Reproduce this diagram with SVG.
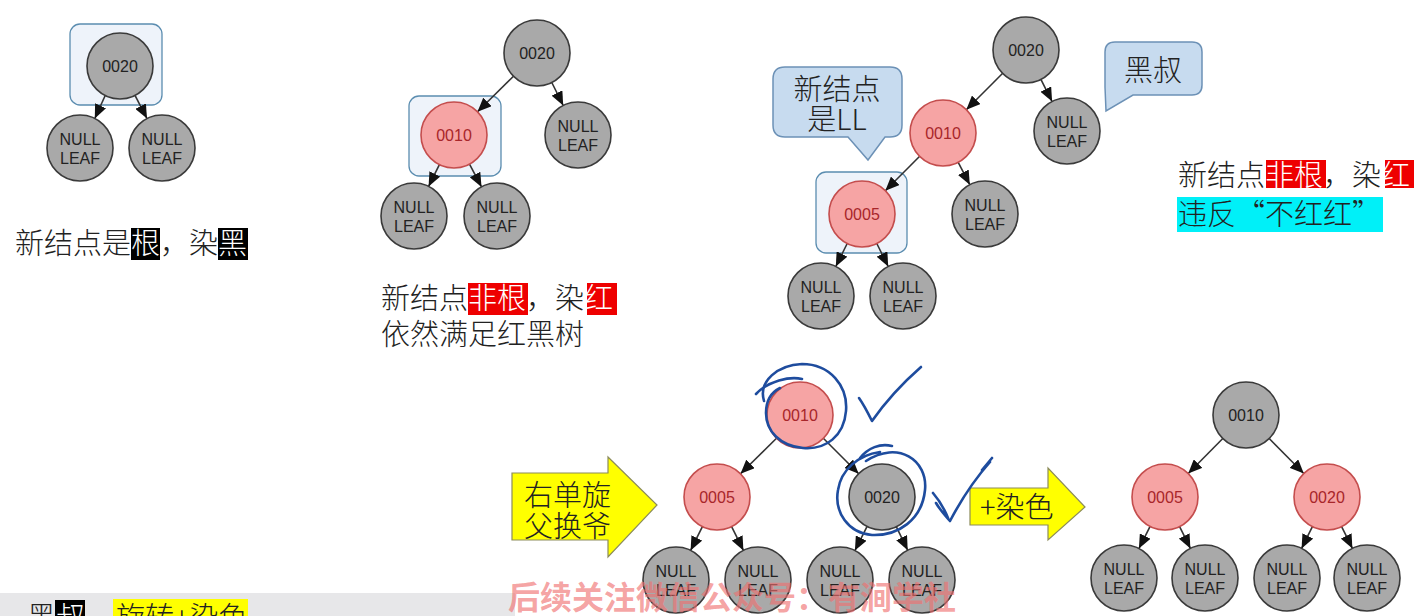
<svg xmlns="http://www.w3.org/2000/svg" width="1422" height="616" viewBox="0 0 1422 616">
<defs>
<marker id="ah" markerUnits="userSpaceOnUse" markerWidth="14" markerHeight="12" refX="14" refY="6" orient="auto"><path d="M0,0 L14,6 L0,12 z" fill="#111"/></marker>
<style>
.e{stroke:#333;stroke-width:1.6;fill:none;marker-end:url(#ah)}
.g circle{fill:#a9a9a9;stroke:#3a3a3a;stroke-width:1.6}
.r circle{fill:#f6a4a4;stroke:#c44d4d;stroke-width:1.6}
.n text{font-family:"Liberation Sans",Arial,sans-serif;font-size:16px;text-anchor:middle}
.g text{fill:#222}
.r text{fill:#a8262a}
.hl{fill:#eef3fa;stroke:#5b8db0;stroke-width:1.3}
.cj{font-family:"Noto Sans CJK SC","Noto Sans CJK JP",sans-serif;font-size:29px;font-weight:300;fill:#222}
.call{fill:#c7dbef;stroke:#6c91b6;stroke-width:1.5}
.ya{fill:#ffff00;stroke:#8c8c5a;stroke-width:1.2}
.hw{fill:none;stroke:#1e4c9e;stroke-width:2.6;stroke-linecap:round;stroke-linejoin:round}
</style>
</defs>
<rect width="1422" height="616" fill="#ffffff"/>
<rect x="0" y="593" width="515" height="23" fill="#e7e7e9"/>

<!-- highlight boxes -->
<rect class="hl" x="70" y="24" width="92" height="81" rx="10"/>
<rect class="hl" x="409" y="96" width="92" height="80" rx="10"/>
<rect class="hl" x="816" y="172" width="91" height="81" rx="10"/>

<!-- callouts -->
<g id="callout-ll">
<path class="call" d="M785,67 H890 Q902,67 902,79 V125 Q902,137 890,137 H885 L868,160 L848,137 H785 Q773,137 773,125 V79 Q773,67 785,67 Z"/>
<text class="cj" x="837" y="100" text-anchor="middle">新结点</text>
<text class="cj" x="837" y="130" text-anchor="middle">是LL</text>
</g>
<g id="callout-uncle">
<path class="call" d="M1115,42 H1192 Q1202,42 1202,52 V85 Q1202,95 1192,95 H1133 L1106,111 L1105,87 V52 Q1105,42 1115,42 Z"/>
<text class="cj" x="1153" y="81" text-anchor="middle">黑叔</text>
</g>

<!-- connectors -->
<g id="connectors">
<line class="e" x1="105.2" y1="95.5" x2="94.8" y2="118.5"/>
<line class="e" x1="135" y1="95.4" x2="147" y2="118.6"/>
<line class="e" x1="513.5" y1="76.2" x2="477.5" y2="111.8"/>
<line class="e" x1="551.8" y1="82.5" x2="563.2" y2="105.5"/>
<line class="e" x1="439.4" y1="164.6" x2="428.6" y2="186.4"/>
<line class="e" x1="469.5" y1="164.1" x2="481.5" y2="186.9"/>
<line class="e" x1="1002.7" y1="73.3" x2="966.3" y2="109.7"/>
<line class="e" x1="1040.9" y1="79.4" x2="1052.1" y2="101.6"/>
<line class="e" x1="919.7" y1="156.3" x2="885.3" y2="190.7"/>
<line class="e" x1="958.2" y1="162.3" x2="969.8" y2="184.7"/>
<line class="e" x1="847.2" y1="243.5" x2="835.8" y2="266.5"/>
<line class="e" x1="876.8" y1="243.5" x2="888.2" y2="266.5"/>
<line class="e" x1="776.5" y1="438.2" x2="740.5" y2="473.8"/>
<line class="e" x1="823.3" y1="438.3" x2="858.7" y2="473.7"/>
<line class="e" x1="702.4" y1="526.6" x2="690.6" y2="550.4"/>
<line class="e" x1="731.6" y1="526.6" x2="743.4" y2="550.4"/>
<line class="e" x1="867.1" y1="526.4" x2="854.9" y2="550.6"/>
<line class="e" x1="896.3" y1="526.7" x2="907.7" y2="550.3"/>
<line class="e" x1="1222.8" y1="438.5" x2="1188.2" y2="473.5"/>
<line class="e" x1="1269.2" y1="438.5" x2="1303.8" y2="473.5"/>
<line class="e" x1="1150.1" y1="526.4" x2="1138.9" y2="548.6"/>
<line class="e" x1="1179.6" y1="526.6" x2="1190.4" y2="548.4"/>
<line class="e" x1="1312.4" y1="526.6" x2="1301.6" y2="548.4"/>
<line class="e" x1="1341.6" y1="526.6" x2="1352.4" y2="548.4"/>
</g>

<!-- tree 1 -->
<g id="t1-root" class="n g"><circle cx="120" cy="66" r="33"/><text x="120" y="71.5">0020</text></g>
<g id="t1-l" class="n g"><circle cx="80" cy="148" r="33"/><text x="80" y="145">NULL</text><text x="80" y="164">LEAF</text></g>
<g id="t1-r" class="n g"><circle cx="162" cy="148" r="33"/><text x="162" y="145">NULL</text><text x="162" y="164">LEAF</text></g>

<!-- tree 2 -->
<g id="t2-root" class="n g"><circle cx="537" cy="53" r="33"/><text x="537" y="58.5">0020</text></g>
<g id="t2-0010" class="n r"><circle cx="454" cy="135" r="33"/><text x="454" y="140.5">0010</text></g>
<g id="t2-rl" class="n g"><circle cx="578" cy="135" r="33"/><text x="578" y="132">NULL</text><text x="578" y="151">LEAF</text></g>
<g id="t2-ll" class="n g"><circle cx="414" cy="216" r="33"/><text x="414" y="213">NULL</text><text x="414" y="232">LEAF</text></g>
<g id="t2-lr" class="n g"><circle cx="497" cy="216" r="33"/><text x="497" y="213">NULL</text><text x="497" y="232">LEAF</text></g>

<!-- tree 3 -->
<g id="t3-root" class="n g"><circle cx="1026" cy="50" r="33"/><text x="1026" y="55.5">0020</text></g>
<g id="t3-0010" class="n r"><circle cx="943" cy="133" r="33"/><text x="943" y="138.5">0010</text></g>
<g id="t3-rl" class="n g"><circle cx="1067" cy="131" r="33"/><text x="1067" y="128">NULL</text><text x="1067" y="147">LEAF</text></g>
<g id="t3-0005" class="n r"><circle cx="862" cy="214" r="33"/><text x="862" y="219.5">0005</text></g>
<g id="t3-mr" class="n g"><circle cx="985" cy="214" r="33"/><text x="985" y="211">NULL</text><text x="985" y="230">LEAF</text></g>
<g id="t3-ll" class="n g"><circle cx="821" cy="296" r="33"/><text x="821" y="293">NULL</text><text x="821" y="312">LEAF</text></g>
<g id="t3-lr" class="n g"><circle cx="903" cy="296" r="33"/><text x="903" y="293">NULL</text><text x="903" y="312">LEAF</text></g>

<!-- tree 4 -->
<g id="t4-0010" class="n r"><circle cx="800" cy="415" r="33"/><text x="800" y="420.5">0010</text></g>
<g id="t4-0005" class="n r"><circle cx="717" cy="497" r="33"/><text x="717" y="502.5">0005</text></g>
<g id="t4-0020" class="n g"><circle cx="882" cy="497" r="33"/><text x="882" y="502.5">0020</text></g>
<g id="t4-l1" class="n g"><circle cx="676" cy="580" r="33"/><text x="676" y="577">NULL</text><text x="676" y="596">LEAF</text></g>
<g id="t4-l2" class="n g"><circle cx="758" cy="580" r="33"/><text x="758" y="577">NULL</text><text x="758" y="596">LEAF</text></g>
<g id="t4-l3" class="n g"><circle cx="840" cy="580" r="33"/><text x="840" y="577">NULL</text><text x="840" y="596">LEAF</text></g>
<g id="t4-l4" class="n g"><circle cx="922" cy="580" r="33"/><text x="922" y="577">NULL</text><text x="922" y="596">LEAF</text></g>

<!-- tree 5 -->
<g id="t5-0010" class="n g"><circle cx="1246" cy="415" r="33"/><text x="1246" y="420.5">0010</text></g>
<g id="t5-0005" class="n r"><circle cx="1165" cy="497" r="33"/><text x="1165" y="502.5">0005</text></g>
<g id="t5-0020" class="n r"><circle cx="1327" cy="497" r="33"/><text x="1327" y="502.5">0020</text></g>
<g id="t5-l1" class="n g"><circle cx="1124" cy="578" r="33"/><text x="1124" y="575">NULL</text><text x="1124" y="594">LEAF</text></g>
<g id="t5-l2" class="n g"><circle cx="1205" cy="578" r="33"/><text x="1205" y="575">NULL</text><text x="1205" y="594">LEAF</text></g>
<g id="t5-l3" class="n g"><circle cx="1287" cy="578" r="33"/><text x="1287" y="575">NULL</text><text x="1287" y="594">LEAF</text></g>
<g id="t5-l4" class="n g"><circle cx="1367" cy="578" r="33"/><text x="1367" y="575">NULL</text><text x="1367" y="594">LEAF</text></g>

<!-- yellow arrows -->
<g id="arrow-rotate">
<path class="ya" d="M512,473 H608 V457 L657,505 L608,557 V540 H512 Z"/>
<text class="cj" x="524" y="506">右单旋</text>
<text class="cj" x="524" y="537">父换爷</text>
</g>
<g id="arrow-color">
<path class="ya" d="M970,488 H1048 V468 L1085,507 L1048,540 V525 H970 Z"/>
<text class="cj" x="980" y="518" font-size="28">+染色</text>
</g>

<!-- captions -->
<g id="caption-1">
<rect x="131" y="228" width="29" height="32" fill="#000"/>
<rect x="218" y="228" width="30" height="32" fill="#000"/>
<text class="cj" x="15" y="254">新结点是<tspan fill="#fff">根</tspan>，染<tspan fill="#fff">黑</tspan></text>
</g>
<g id="caption-2">
<rect x="468" y="283" width="60" height="32" fill="#ee0000"/>
<rect x="587" y="283" width="30" height="32" fill="#ee0000"/>
<text class="cj" x="381" y="309" font-size="29.5">新结点<tspan fill="#fff">非根</tspan>，染<tspan fill="#fff">红</tspan></text>
<text class="cj" x="381" y="345" font-size="29.5">依然满足红黑树</text>
</g>
<g id="caption-3">
<rect x="1266" y="160" width="60" height="28" fill="#ee0000"/>
<rect x="1385" y="160" width="29" height="28" fill="#ee0000"/>
<rect x="1177" y="197" width="206" height="35" fill="#00f0f8"/>
<text class="cj" x="1178" y="186" font-size="29.5">新结点<tspan fill="#fff">非根</tspan>，染<tspan fill="#fff">红</tspan></text>
<text class="cj" x="1178" y="225" font-size="29.5">违反“不红红”</text>
</g>
<g id="caption-4">
<rect x="55" y="600" width="30" height="20" fill="#000"/>
<rect x="113" y="599" width="135" height="20" fill="#ffff00"/>
<text class="cj" x="27" y="628">黑<tspan fill="#fff">叔</tspan>，<tspan x="116">旋转+染色</tspan></text>
</g>

<!-- handwriting -->
<g id="handwriting">
<path class="hw" d="M756,394 C768,381 790,376 802,379"/>
<path class="hw" d="M764,401 C758,381 778,365 802,364 C830,364 848,386 846,411 C844,436 826,450 803,448 C780,446 766,431 766,413 C766,400 772,392 780,388"/>
<path class="hw" d="M859,398 C864,405 868,413 872,421 C886,401 905,381 921,367"/>
<path class="hw" d="M860,458 C868,448 880,443 892,446"/>
<path class="hw" d="M866,461 C898,440 928,460 925,490 C922,520 898,536 872,535 C848,533 834,512 838,490 C841,470 858,455 880,452"/>
<path class="hw" d="M933,493 C939,500 944,508 948,518 M936,503 C940,510 945,515 950,521 C960,502 974,480 990,462 M982,470 L992,458"/>
</g>

<!-- watermark -->
<text x="508" y="609" font-family="Noto Sans CJK SC,sans-serif" font-weight="bold" font-size="32" fill="#f07070" fill-opacity="0.65">后续关注微信公众号：有涧学社</text>
</svg>
